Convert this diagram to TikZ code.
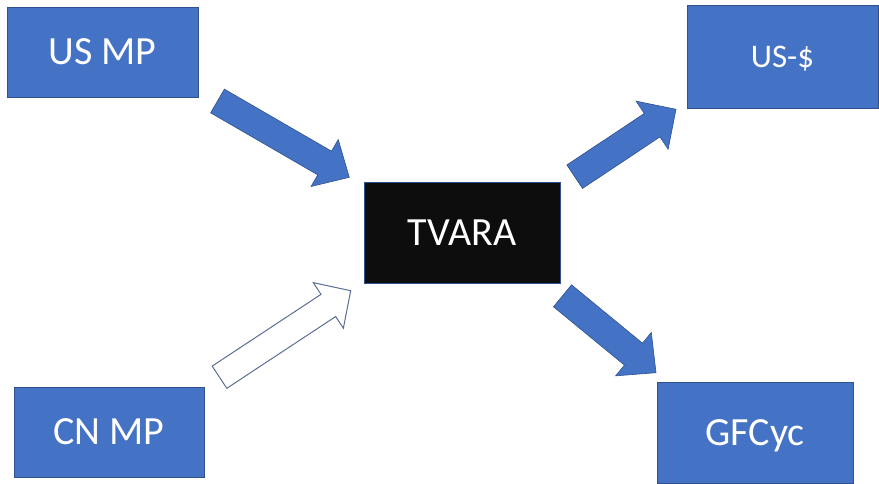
\documentclass[tikz,border=0pt]{standalone}
\usepackage{fontspec}
\setmainfont{Carlito}
\usetikzlibrary{calc}

\definecolor{officeblue}{HTML}{4472C4}
\definecolor{edgeblue}{HTML}{2F528F}
\definecolor{nearblack}{HTML}{0D0D0D}
\definecolor{outlinegray}{HTML}{5B6E94}

\tikzset{
  box/.style={draw=edgeblue, line width=0.8pt, fill=officeblue, text=white,
    inner sep=0pt, text depth=0pt, align=center},
  hub/.style={box, fill=nearblack},
  big/.style={font=\fontsize{40}{44}\selectfont, text height=25.8pt},
  small/.style={font=\fontsize{33}{38}\selectfont, text height=21.3pt},
  solidarrow/.style={fill=officeblue, draw=edgeblue, line width=0.6pt, line join=miter},
  hollowarrow/.style={fill=white, draw=outlinegray, line width=1pt, line join=miter},
}

% block arrow: #1 tail, #2 tip, #3 half shaft width, #4 half head width,
% #5 head length, #6 style
\newcommand\blockarrow[6]{%
  \coordinate (ba-h) at ($(#2)!#5!(#1)$);
  \path[#6]
    ($(#1)!#3!90:(#2)$) -- ($(ba-h)!#3!90:(#2)$) -- ($(ba-h)!#4!90:(#2)$)
    -- (#2)
    -- ($(ba-h)!#4!-90:(#2)$) -- ($(ba-h)!#3!-90:(#2)$) -- ($(#1)!#3!-90:(#2)$)
    -- cycle;
}

\begin{document}
\begin{tikzpicture}[x=1pt, y=-1pt]
  \useasboundingbox (0,0) rectangle (879,483);

  % boxes
  \node[box, big, minimum width=191pt, minimum height=90pt]
    (usmp) at (102.5,52) {US MP};
  \node[box, big, minimum width=190pt, minimum height=90pt]
    (cnmp) at (109,432) {CN MP};
  \node[hub, big, minimum width=196pt, minimum height=101pt]
    (tvara) at (462,232.5) {TVARA};
  \node[box, small, minimum width=191pt, minimum height=103pt]
    (usd) at (782.5,56.5) {US-\$};
  \node[box, big, minimum width=196pt, minimum height=101pt]
    (gfcyc) at (755,432.5) {GFCyc};

  % arrow ends
  \coordinate (a1tail) at (217.5,101);
  \coordinate (a1tip)  at (349.3,177.3);
  \coordinate (a2tail) at (219.5,377.2);
  \coordinate (a2tip)  at (350.7,290.7);
  \coordinate (a3tail) at (574.7,176.7);
  \coordinate (a3tip)  at (676,109.3);
  \coordinate (a4tail) at (562.5,295.8);
  \coordinate (a4tip)  at (656,372.7);

  % arrows
  \blockarrow{a1tail}{a1tip}{13.7pt}{27.1pt}{28.5pt}{solidarrow}
  \blockarrow{a2tail}{a2tip}{13.3pt}{27.3pt}{26.8pt}{hollowarrow}
  \blockarrow{a3tail}{a3tip}{14.1pt}{28.9pt}{28.7pt}{solidarrow}
  \blockarrow{a4tail}{a4tip}{14.2pt}{28.1pt}{29.2pt}{solidarrow}
\end{tikzpicture}
\end{document}
